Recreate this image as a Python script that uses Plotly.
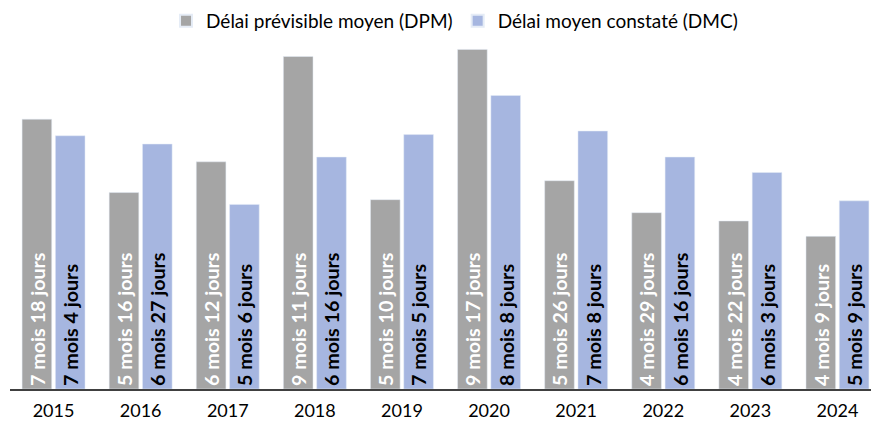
import plotly.graph_objects as go

years = ["2015", "2016", "2017", "2018", "2019", "2020", "2021", "2022", "2023", "2024"]
dpm_months = [7, 5, 6, 9, 5, 9, 5, 4, 4, 4]
dpm_days = [18, 16, 12, 11, 10, 17, 26, 29, 22, 9]
dmc_months = [7, 6, 5, 6, 7, 8, 7, 6, 6, 5]
dmc_days = [4, 27, 6, 16, 5, 8, 8, 16, 3, 9]

def to_val(m, d):
    return [a + b / 30 for a, b in zip(m, d)]

def to_lab(m, d):
    return [f"{a} mois {b} jours" for a, b in zip(m, d)]

FONT = "Lato, Carlito, Calibri, sans-serif"

fig = go.Figure()
fig.add_trace(go.Bar(
    name="Délai prévisible moyen (DPM)", x=years, y=to_val(dpm_months, dpm_days),
    text=to_lab(dpm_months, dpm_days), textposition="inside", insidetextanchor="start",
    textangle=-90, marker=dict(color="#A5A5A5"),
    textfont=dict(family=FONT, size=20, color="white", weight="bold"),
    hoverinfo="x+text",
))
fig.add_trace(go.Bar(
    name="Délai moyen constaté (DMC)", x=years, y=to_val(dmc_months, dmc_days),
    text=to_lab(dmc_months, dmc_days), textposition="inside", insidetextanchor="start",
    textangle=-90, marker=dict(color="#A6B6E0"),
    textfont=dict(family=FONT, size=20, color="black", weight="bold"),
    hoverinfo="x+text",
))

fig.update_layout(
    width=879, height=432,
    margin=dict(l=2, r=6, t=26, b=51, autoexpand=False),
    paper_bgcolor="white", plot_bgcolor="white",
    barmode="group", bargap=0.235, bargroupgap=0.11,
    font=dict(family=FONT, size=18, color="black"),
    uniformtext=dict(mode=False),
    legend=dict(orientation="h", x=0.508, xanchor="center", xref="container",
                y=1 - 13 / 432, yanchor="middle", yref="container",
                font=dict(family=FONT, size=19), itemsizing="constant", traceorder="normal",
                itemwidth=30),
    xaxis=dict(showline=True, linecolor="#404040", linewidth=2, ticks="",
               tickfont=dict(family=FONT, size=18), ticklabelstandoff=4,
               showgrid=False, automargin=False),
    yaxis=dict(range=[0, 10], visible=False, showgrid=False, automargin=False),
    showlegend=True,
)

fig.write_html("out.html")
